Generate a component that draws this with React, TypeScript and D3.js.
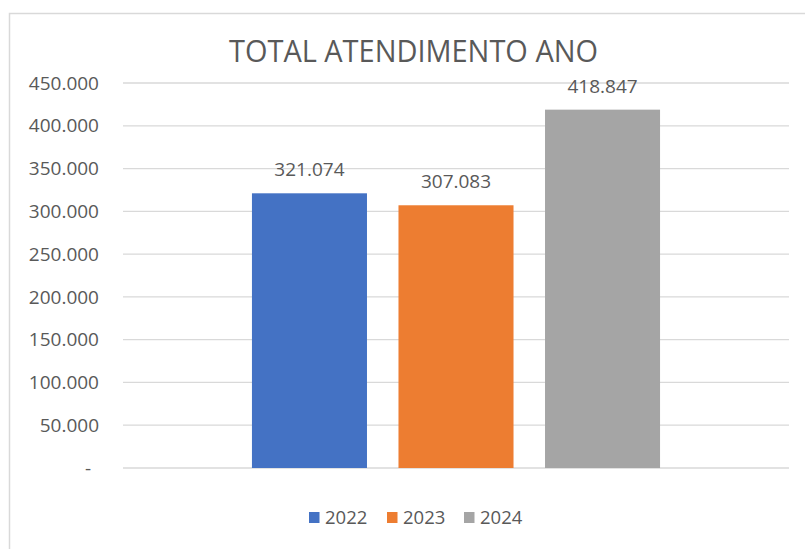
import React from "react";
import * as d3 from "d3";

const categories = ["2022", "2023", "2024"];
const values = [321074, 307083, 418847];
const colors = ["#4472C4", "#ED7D31", "#A5A5A5"];
const yTicks = [0, 50000, 100000, 150000, 200000, 250000, 300000, 350000, 400000, 450000];
const title = "TOTAL ATENDIMENTO ANO";

const W = 805;
const H = 549;
const plotLeft = 123;
const plotRight = 789;
const plotTop = 83;
const plotBottom = 468;

const locale = d3.formatLocale({ decimal: ",", thousands: ".", grouping: [3], currency: ["", ""] });
const fmt = locale.format(",.0f");
const tickLabel = (v: number) => (v === 0 ? "-" : fmt(v));

const font = "'Open Sans', 'Liberation Sans', sans-serif";
const textColor = "#595959";

export default function App() {
  const y = d3.scaleLinear().domain([0, 450000]).range([plotBottom, plotTop]);
  const x = d3
    .scaleBand<string>()
    .domain(categories)
    .range([plotLeft, plotRight])
    .paddingInner(0.215)
    .paddingOuter(0.88);

  const legendX = [309, 387, 464];

  return (
    <svg
      width={W}
      height={H}
      style={{ position: "absolute", left: 0, top: 0, background: "#fff" }}
      fontFamily={font}
    >
      <rect x={0} y={0} width={W} height={H} fill="#fff" />
      <rect x={9.5} y={13.5} width={W + 20} height={H + 20} fill="none" stroke="#d9d9d9" strokeWidth={1.5} />
      <text
        x={413.5}
        y={62}
        textAnchor="middle"
        fontSize={31}
        fontWeight={400}
        fill={textColor}
        textLength={369}
        lengthAdjust="spacingAndGlyphs"
      >
        {title}
      </text>
      {yTicks.map((t) => (
        <g key={t}>
          <line x1={plotLeft} x2={plotRight} y1={y(t)} y2={y(t)} stroke="#d9d9d9" strokeWidth={1.3} />
          <text
            x={t === 0 ? 91 : 99}
            y={y(t)}
            dy="0.35em"
            textAnchor="end"
            fontSize={19}
            fill={textColor}
          >
            {tickLabel(t)}
          </text>
        </g>
      ))}
      {categories.map((c, i) => (
        <g key={c}>
          <rect
            x={x(c)}
            y={y(values[i])}
            width={x.bandwidth()}
            height={y(0) - y(values[i])}
            fill={colors[i]}
          />
          <text
            x={(x(c) as number) + x.bandwidth() / 2}
            y={y(values[i]) - 17}
            textAnchor="middle"
            fontSize={19}
            fill={textColor}
          >
            {fmt(values[i])}
          </text>
        </g>
      ))}
      {categories.map((c, i) => (
        <g key={"lg" + c}>
          <rect x={legendX[i]} y={512} width={10.5} height={11} fill={colors[i]} />
          <text x={legendX[i] + 16} y={517.5} dy="0.35em" fontSize={18.5} fill={textColor}>
            {c}
          </text>
        </g>
      ))}
    </svg>
  );
}
